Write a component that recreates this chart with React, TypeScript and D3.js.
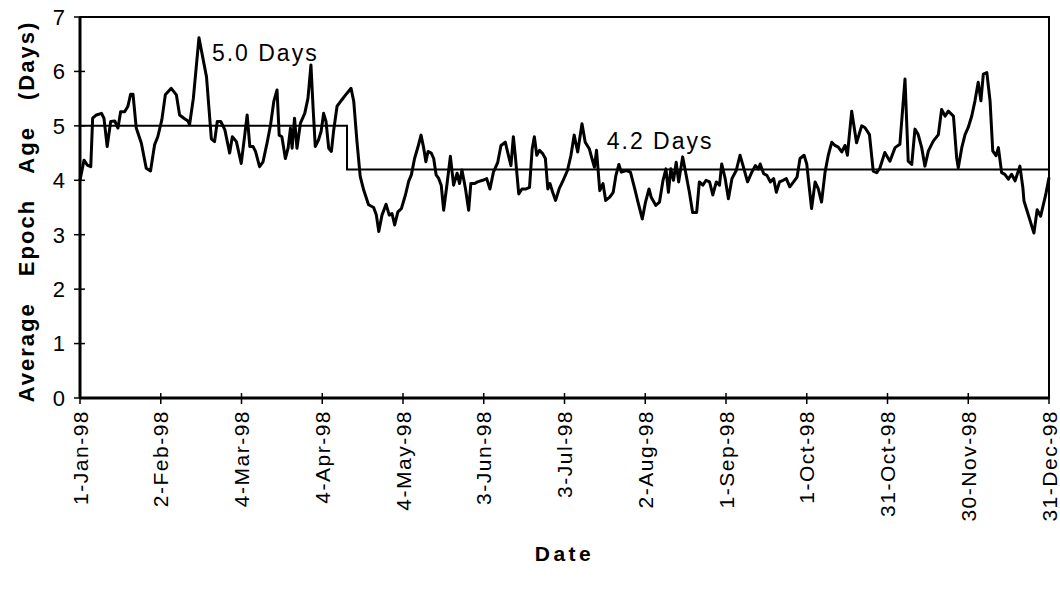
import * as d3 from 'd3';
import React from 'react';

// category axis: one tick every 30 points
const tickPos = [0, 30, 60, 90, 120, 150, 180, 210, 240, 270, 300, 330, 360];
const tickLabels = [
    '1-Jan-98', '2-Feb-98', '4-Mar-98', '4-Apr-98', '4-May-98', '3-Jun-98', '3-Jul-98',
    '2-Aug-98', '1-Sep-98', '1-Oct-98', '31-Oct-98', '30-Nov-98', '31-Dec-98',
];
const yTicks = [0, 1, 2, 3, 4, 5, 6, 7];

// traced series (position along category axis, average epoch age in days)
const seriesPos = [
    0, 1.5, 2.7, 4, 4.7, 6.1, 8, 8.9, 10.1, 11.4, 12.9, 14.1, 15.1, 16.6, 17.8, 18.8, 19.7, 20.9,
    22.8, 24.6, 26.2, 27.7, 28.9, 30.4, 31.7, 33.9, 35.8, 37, 38.6, 40.1, 40.7, 42.1, 44.2, 47,
    48.8, 50, 51, 52.3, 53.8, 55.6, 56.6, 58.1, 59.9, 61.2, 62.1, 63.1, 64.3, 65.2, 66.7, 68,
    69.6, 70.8, 72, 73.2, 74, 75, 76.3, 77.3, 78.2, 78.8, 79.7, 80.6, 81.9, 83.5, 84.7, 85.8,
    86.6, 87.4, 88.6, 89.6, 90.5, 91.4, 92.4, 93.4, 94.2, 95.5, 97.3, 99.2, 100.7, 101.7, 102.9,
    104.1, 105.4, 107.2, 109.1, 110.1, 111, 112.2, 113.7, 114.9, 115.9, 116.9, 118.1, 119.4,
    120.9, 122.1, 123.1, 124.3, 125.6, 126.7, 127.7, 128.5, 129.3, 130.5, 131.4, 132.3, 133.2,
    134.2, 135.1, 136.3, 137.6, 138.8, 140.1, 141, 141.9, 143.2, 144.4, 145.2, 146.5, 147.7,
    149.6, 151.1, 152.3, 153.6, 155.2, 156.4, 158, 159.3, 160.1, 161, 161.7, 163, 164.2, 165.7,
    167, 168, 168.8, 169.7, 170.7, 171.9, 172.9, 173.8, 174.6, 175.6, 176.7, 178, 179.5, 181.1,
    182.4, 183.6, 184.9, 186.5, 187.7, 189.2, 190.2, 191.1, 191.9, 193.1, 194.3, 195.3, 196.8,
    198.1, 199.1, 200.2, 201.1, 203, 204.5, 206.1, 207.3, 208.9, 210.1, 211.4, 212.2, 213.9,
    215.3, 216.6, 217.7, 218.6, 219.5, 220.5, 221.5, 222.4, 223.9, 225.1, 226.4, 227.6, 229.1,
    230.1, 231.4, 232.6, 233.9, 235.1, 236.4, 237.6, 238.4, 239.7, 240.9, 242.2, 243.8, 245.2,
    246.5, 248, 249.6, 250.9, 252.1, 252.7, 254, 255.2, 256.5, 257.7, 258.7, 259.9, 261.2, 262.4,
    263.7, 265.1, 266.4, 267.5, 269, 270, 271, 271.8, 273.1, 274.3, 275.5, 276.8, 278, 279.3,
    280.5, 281.7, 283, 284.2, 285.1, 286.7, 288.5, 290.4, 291.6, 293.3, 294.7, 296, 297.2, 299,
    300.9, 302.8, 304.6, 306.5, 307.7, 309, 310.2, 311.4, 312.7, 313.9, 315.2, 317, 318.9, 320.1,
    321.4, 322.6, 324.5, 325.7, 326.3, 327.6, 328.8, 330, 331.3, 332.5, 333.7, 334.7, 335.6,
    336.9, 338.1, 339.1, 340.3, 341.2, 342.4, 343.6, 344.9, 346.1, 347.4, 349.2, 350.3, 350.7,
    351.9, 354.4, 355.6, 356.9, 358.8, 360,
];
const epochAge = [
    4.0, 4.37, 4.28, 4.25, 5.14, 5.2, 5.23, 5.14, 4.62, 5.08, 5.09, 4.96, 5.26, 5.26, 5.36, 5.58, 5.58, 4.96,
    4.68, 4.22, 4.17, 4.65, 4.8, 5.11, 5.57, 5.69, 5.57, 5.2, 5.14, 5.09, 5.02, 5.5, 6.62, 5.9,
    4.76, 4.71, 5.08, 5.08, 4.93, 4.5, 4.8, 4.71, 4.31, 4.83, 5.2, 4.62, 4.62, 4.53, 4.25, 4.34,
    4.71, 5.02, 5.45, 5.66, 4.83, 4.8, 4.4, 4.59, 4.96, 4.59, 5.14, 4.59, 5.05, 5.23, 5.51, 6.12,
    5.33, 4.62, 4.74, 4.9, 5.23, 5.08, 4.59, 4.53, 4.9, 5.36, 5.48, 5.6, 5.69, 5.45, 4.71,
    4.07, 3.82, 3.55, 3.5, 3.36, 3.06, 3.36, 3.56, 3.36, 3.39, 3.18, 3.42, 3.48,
    3.73, 3.98, 4.1, 4.4, 4.62, 4.83, 4.59, 4.34, 4.53, 4.5, 4.4, 4.1, 4.04,
    3.91, 3.45, 3.91, 4.44, 3.91, 4.13, 3.94, 4.19, 3.85, 3.45, 3.94, 3.94, 3.97,
    4.0, 4.03, 3.84, 4.15, 4.33, 4.64, 4.7, 4.43, 4.27, 4.8, 4.46, 3.75, 3.84, 3.84,
    3.87, 4.58, 4.8, 4.46, 4.55, 4.49, 4.4, 3.84, 3.94, 3.78, 3.63, 3.84, 4.0, 4.18,
    4.46, 4.83, 4.52, 5.04, 4.7, 4.58, 4.4, 4.24, 4.55, 3.81, 3.94, 3.63, 3.69,
    3.78, 4.09, 4.29, 4.15, 4.18, 4.15, 3.84, 3.6, 3.29, 3.6, 3.84, 3.69, 3.54,
    3.6, 4.0, 4.21, 3.78, 4.21, 4.0, 4.33, 3.97, 4.43, 4.12, 3.78, 3.41, 3.41,
    3.97, 3.91, 4.0, 3.97, 3.73, 3.97, 3.91, 4.3, 4.03, 3.66, 4.03, 4.18, 4.46,
    4.24, 3.97, 4.15, 4.27, 4.21, 4.3, 4.12, 4.09, 3.97, 4.03, 3.78, 3.97, 4.0, 4.03,
    3.88, 3.97, 4.06, 4.4, 4.46, 4.3, 3.84, 3.48, 3.97, 3.84, 3.6, 4.15, 4.46, 4.7,
    4.64, 4.61, 4.52, 4.64, 4.46, 5.27, 4.69, 5.0, 4.97, 4.84, 4.17, 4.14, 4.23, 4.51,
    4.35, 4.6, 4.66, 5.86, 4.35, 4.29, 4.94, 4.84, 4.6, 4.26, 4.54, 4.72, 4.84, 5.3,
    5.18, 5.27, 5.18, 4.41, 4.23, 4.6, 4.84, 4.97, 5.18, 5.46, 5.8, 5.46, 5.95,
    5.98, 5.46, 4.54, 4.45, 4.6, 4.14, 4.11, 4.02, 4.11, 3.99, 4.26, 3.86, 3.62,
    3.43, 3.03, 3.46, 3.34, 3.74, 4.05,
];

// period averages drawn as a step
const meanPos = [0, 99.2, 99.2, 360];
const meanAge = [5.0, 5.0, 4.2, 4.2];

const noteLabels = ['5.0 Days', '4.2 Days'];
const notePos = [49, 195.7];
const noteAge = [6.2, 4.57];

const WIDTH = 1060;
const HEIGHT = 590;
const margin = { top: 17, right: 11, bottom: 192, left: 80 };
const FONT = '"Liberation Sans", Arial, Helvetica, sans-serif';

const App: React.FC = () => {
    const innerW = WIDTH - margin.left - margin.right;
    const innerH = HEIGHT - margin.top - margin.bottom;

    const x = d3.scaleLinear().domain([0, 360]).range([0, innerW]);
    const y = d3.scaleLinear().domain([0, 7]).range([innerH, 0]);

    const line = d3
        .line<[number, number]>()
        .x((d) => x(d[0]))
        .y((d) => y(d[1]));

    const series = seriesPos.map((p, i) => [p, epochAge[i]] as [number, number]);
    const means = meanPos.map((p, i) => [p, meanAge[i]] as [number, number]);

    return (
        <svg
            width={WIDTH}
            height={HEIGHT}
            style={{ position: 'absolute', left: 0, top: 0, background: '#fff' }}
            fontFamily={FONT}
        >
            <g transform={`translate(${margin.left},${margin.top})`}>
                {/* frame */}
                <rect x={0} y={0} width={innerW} height={innerH} fill="none" stroke="#000" strokeWidth={2} />
                <line x1={0} x2={0} y1={0} y2={innerH} stroke="#000" strokeWidth={3} />
                <line x1={0} x2={innerW} y1={innerH} y2={innerH} stroke="#000" strokeWidth={3} />

                {/* y axis */}
                {yTicks.map((t) => (
                    <g key={t} transform={`translate(0,${y(t)})`}>
                        <line x1={-6} x2={5} stroke="#000" strokeWidth={1.5} />
                        <text x={-15} dy="0.36em" textAnchor="end" fontSize={22} fill="#000">
                            {t}
                        </text>
                    </g>
                ))}

                {/* x axis */}
                {tickPos.map((p, i) => (
                    <g key={p} transform={`translate(${x(p)},${innerH})`}>
                        <line y1={-5} y2={6} stroke="#000" strokeWidth={1.5} />
                        <text
                            transform="rotate(-90)"
                            x={-12}
                            dy="0.36em"
                            textAnchor="end"
                            fontSize={21}
                            letterSpacing={1.5}
                            fill="#000"
                        >
                            {tickLabels[i]}
                        </text>
                    </g>
                ))}

                {/* averages */}
                <path d={line(means) ?? ''} fill="none" stroke="#000" strokeWidth={2} />

                {/* series */}
                <path
                    d={line(series) ?? ''}
                    fill="none"
                    stroke="#000"
                    strokeWidth={3}
                    strokeLinejoin="round"
                />

                {noteLabels.map((n, i) => (
                    <text
                        key={n}
                        x={x(notePos[i])}
                        y={y(noteAge[i])}
                        fontSize={23}
                        letterSpacing={2}
                        fill="#000"
                    >
                        {n}
                    </text>
                ))}
            </g>

            <text
                transform={`translate(26,${margin.top + innerH / 2 + 4}) rotate(-90)`}
                textAnchor="middle"
                dy="0.36em"
                fontSize={22}
                fontWeight="bold"
                letterSpacing={2}
                wordSpacing={18}
                fill="#000"
            >
                Average Epoch Age (Days)
            </text>
            <text
                x={margin.left + innerW / 2}
                y={561}
                textAnchor="middle"
                fontSize={21}
                fontWeight="bold"
                letterSpacing={3.5}
                fill="#000"
            >
                Date
            </text>
        </svg>
    );
};

export default App;
